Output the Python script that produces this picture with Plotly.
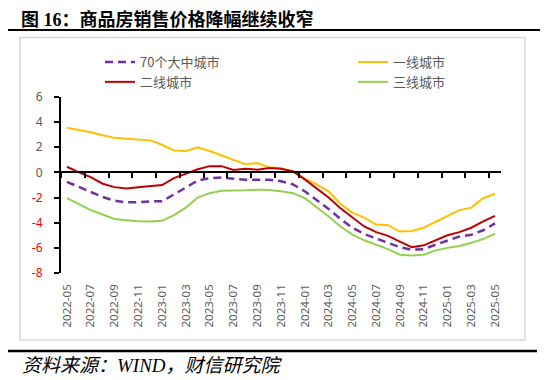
import plotly.graph_objects as go

# ---------------- data ----------------
months = [f"{y}-{m:02d}" for y, m in
          [(2022, m) for m in range(5, 13)] + [(2023, m) for m in range(1, 13)] +
          [(2024, m) for m in range(1, 13)] + [(2025, m) for m in range(1, 6)]]

city70 = [-0.75, -1.15, -1.6, -1.95, -2.25, -2.38, -2.37, -2.3, -2.3, -1.75,
          -1.2, -0.65, -0.45, -0.4, -0.5, -0.58, -0.58, -0.58, -0.7, -0.95,
          -1.5, -2.2, -2.9, -3.7, -4.4, -4.9, -5.25, -5.6, -5.95, -6.15,
          -6.1, -5.75, -5.4, -5.1, -4.95, -4.6, -4.05]
tier1 = [3.55, 3.4, 3.2, 2.95, 2.75, 2.68, 2.6, 2.55, 2.2, 1.75,
         1.7, 2.0, 1.7, 1.35, 1.05, 0.65, 0.74, 0.42, 0.33, 0.05,
         -0.5, -0.95, -1.5, -2.5, -3.2, -3.6, -4.15, -4.2, -4.7, -4.65,
         -4.4, -3.95, -3.5, -3.0, -2.8, -2.05, -1.7]
tier2 = [0.45, 0.0, -0.37, -0.9, -1.17, -1.28, -1.17, -1.06, -1.0, -0.45,
         -0.08, 0.25, 0.5, 0.5, 0.2, 0.3, 0.22, 0.35, 0.3, 0.1,
         -0.55, -1.3, -2.0, -2.85, -3.6, -4.3, -4.75, -5.05, -5.5, -5.95,
         -5.8, -5.4, -5.0, -4.75, -4.4, -3.9, -3.45]
tier3 = [-2.05, -2.55, -3.0, -3.35, -3.7, -3.8, -3.88, -3.9, -3.85, -3.4,
         -2.8, -2.0, -1.65, -1.45, -1.45, -1.42, -1.37, -1.4, -1.5, -1.65,
         -2.05, -2.75, -3.5, -4.3, -4.95, -5.4, -5.75, -6.1, -6.55, -6.6,
         -6.55, -6.2, -6.0, -5.85, -5.6, -5.3, -4.87]

series_names = ["70个大中城市", "一线城市", "二线城市", "三线城市"]
y_ticks = [-8, -6, -4, -2, 0, 2, 4, 6]

# ---------------- geometry ----------------
# page body has an 8px default margin: size the figure so it fits the window
OFF = 8
W, H = 550 - OFF, 380 - OFF
PL, PR, PT, PB = 61, 501, 97, 273          # plot area in window pixels
ML, MR, MT, MB = PL - OFF, W - (PR - OFF), PT - OFF, H - (PB - OFF)
PW, PH = W - ML - MR, H - MT - MB


def px(x):
    return (x - OFF - ML) / PW


def py(y):
    return (H - MB - (y - OFF)) / PH


idx = list(range(len(months)))
fig = go.Figure()
styles = [
    dict(color="#7030A0", width=2.5, dash="8px,5px"),
    dict(color="#FFC000", width=2),
    dict(color="#C00000", width=2),
    dict(color="#92D050", width=2),
]
legend_ids = ["legend", "legend2", "legend", "legend2"]
for name, vals, st, lg in zip(series_names, [city70, tier1, tier2, tier3], styles, legend_ids):
    fig.add_trace(go.Scatter(x=idx, y=vals, name=name, mode="lines", line=st,
                             legend=lg, hoverinfo="skip"))

# helper trace for the zero-crossing category axis
fig.add_trace(go.Scatter(x=[idx[0]], y=[0], xaxis="x2", mode="lines",
                         showlegend=False, hoverinfo="skip", opacity=0))

label_idx = idx[::2]
label_txt = [months[i] for i in label_idx]
tick_color = "#595959"
ytext = [f"<span style='color:#FF0000'>{v}</span>" if v < 0 else str(v) for v in y_ticks]

leg_common = dict(orientation="v", yanchor="top", xanchor="left",
                  font=dict(size=13, color=tick_color, family="Noto Sans CJK SC"),
                  bgcolor="rgba(0,0,0,0)", borderwidth=0)

fig.update_layout(
    width=W, height=H,
    margin=dict(l=ML, r=MR, t=MT, b=MB, autoexpand=False),
    paper_bgcolor="white", plot_bgcolor="white",
    font=dict(family="Noto Sans, Noto Sans CJK SC", color=tick_color),
    xaxis=dict(range=[-0.5, len(months) - 0.5], tickvals=label_idx, ticktext=label_txt,
               tickangle=-90, ticks="", showline=False, showgrid=False, zeroline=False,
               tickfont=dict(size=11.5, color=tick_color), ticklabelstandoff=8),
    xaxis2=dict(overlaying="x", matches="x", anchor="free", position=8 / 14,
                range=[-0.5, len(months) - 0.5],
                tickvals=[i - 0.5 for i in label_idx], showticklabels=False,
                ticks="outside", ticklen=5, tickcolor="black", tickwidth=1.5,
                showline=True, linecolor="black", linewidth=2,
                showgrid=False, zeroline=False),
    yaxis=dict(range=[-8, 6], tickvals=y_ticks, ticktext=ytext,
               ticks="outside", ticklen=5, tickcolor="black", tickwidth=1.5,
               showline=True, linecolor="black", linewidth=2,
               showgrid=False, zeroline=False, ticklabelstandoff=9,
               tickfont=dict(size=12, color=tick_color)),
    legend=dict(x=px(100), y=py(47), **leg_common),
    legend2=dict(x=px(353), y=py(47), **leg_common),
    showlegend=True,
)

# frame, rules and texts
fig.add_shape(type="rect", xref="paper", yref="paper", x0=px(20), x1=px(525),
              y0=py(340), y1=py(37.5), line=dict(color="#D9D9D9", width=1.5), layer="below")
fig.add_shape(type="line", xref="paper", yref="paper", x0=px(8), x1=px(540),
              y0=py(30), y1=py(30), line=dict(color="black", width=2))
fig.add_shape(type="line", xref="paper", yref="paper", x0=px(8), x1=px(537),
              y0=py(351), y1=py(351), line=dict(color="black", width=2.5))

fig.add_annotation(xref="paper", yref="paper", x=px(20), y=py(19.5), xanchor="left",
                   yanchor="middle", showarrow=False, borderpad=0,
                   text="<b>图 16：商品房销售价格降幅继续收窄</b>",
                   font=dict(size=18, color="black", family="Liberation Serif, Noto Sans CJK SC"))
fig.add_annotation(xref="paper", yref="paper", x=px(20), y=py(365), xanchor="left",
                   yanchor="middle", showarrow=False,
                   text="<i>资料来源：WIND，财信研究院</i>",
                   font=dict(size=19, color="black", family="Liberation Serif, Noto Sans CJK SC"))

fig.write_html("out.html")
